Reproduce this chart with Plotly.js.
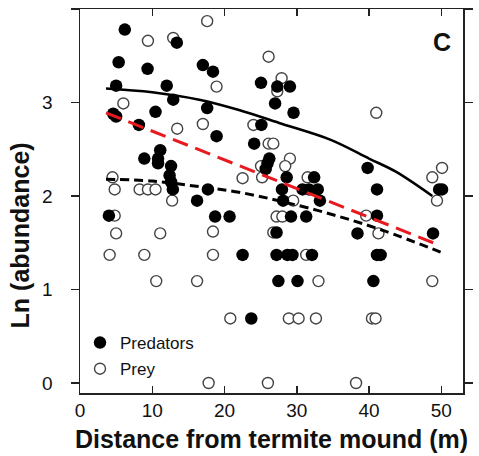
<!DOCTYPE html>
<html>
<head>
<meta charset="utf-8">
<script src="https://cdn.plot.ly/plotly-3.0.1.min.js"></script>
<style>html,body{margin:0;padding:0;background:#fff;}#chart{width:479px;height:456px;}</style>
</head>
<body>
<div id="chart"></div>
<script>
// Predators (filled circles)
var predX = [6.2,13.4,5.35,9.35,17.0,18.4,5.0,12.0,12.9,4.6,5.0,10.45,8.15,17.6,25.05,27.3,29.05,27.0,29.55,25.1,18.9,11.1,8.9,10.8,10.8,12.6,12.4,12.6,12.85,16.2,17.7,4.0,24.1,26.2,25.95,25.7,28.6,27.95,32.4,30.8,31.7,32.9,33.2,28.1,18.7,20.7,29.2,31.3,27.2,22.5,27.2,28.7,29.4,32.1,39.8,41.1,41.1,38.4,41.1,41.6,49.7,50.1,48.85,40.6,27.45,30.1,23.7];
var predY = [3.78,3.64,3.43,3.36,3.40,3.33,3.18,3.18,3.03,2.88,2.85,2.90,2.76,2.94,3.21,3.17,3.17,2.99,2.89,2.76,2.64,2.49,2.40,2.40,2.35,2.32,2.22,2.15,2.07,1.95,2.07,1.79,2.56,2.40,2.35,2.29,2.20,2.07,2.20,2.07,2.07,2.07,1.95,1.95,1.78,1.78,1.78,1.78,1.61,1.37,1.37,1.37,1.37,1.37,2.30,2.07,1.79,1.60,1.37,1.37,2.07,2.07,1.60,1.09,1.09,1.09,0.69];
// Prey (open circles)
var preyX = [9.4,12.9,17.6,26.1,18.9,27.9,27.3,6.0,13.45,17.0,24.0,41.0,4.5,4.8,8.25,9.4,10.45,12.75,4.8,5.0,11.1,4.1,8.9,18.4,26.1,26.75,25.05,29.05,28.4,22.5,25.2,31.5,29.5,27.2,28.0,18.4,26.75,31.3,39.6,41.3,48.75,50.1,49.4,10.55,16.2,33.0,20.8,28.9,30.25,32.65,40.4,40.9,48.75,17.8,26.0,38.2];
var preyY = [3.66,3.69,3.87,3.49,3.17,3.26,3.12,2.99,2.72,2.77,2.76,2.89,2.20,2.07,2.07,2.07,2.07,1.95,1.79,1.60,1.60,1.37,1.37,1.37,2.56,2.56,2.32,2.40,2.32,2.19,2.20,2.20,1.95,1.78,1.78,1.62,1.61,1.37,1.79,1.60,2.20,2.30,1.95,1.09,1.09,1.09,0.69,0.69,0.69,0.69,0.69,0.69,1.09,0.0,0.0,0.0];
// Fitted curves
var predFitX = [3.6,10,16.5,22,28,34.7,40,43.7,48.75];
var predFitY = [3.15,3.11,3.03,2.92,2.77,2.60,2.40,2.26,2.00];
var redFitX = [3.6,49.2];
var redFitY = [2.89,1.49];
var preyFitX = [3.6,10,16.5,22,28,35,42,49.9];
var preyFitY = [2.18,2.16,2.10,2.04,1.94,1.80,1.63,1.40];

var xTicks = [0,10,20,30,40,50];
var yTicks = [0,1,2,3,4];

var F = 'Liberation Sans, Arial, Helvetica, sans-serif';

var traces = [
  {x: preyX, y: preyY, type:'scatter', mode:'markers', name:'Prey', legendrank:2, legendgroup:'b',
   marker:{symbol:'circle', size:11, color:'#ffffff', line:{color:'#444444', width:1.4}}},
  {x: predX, y: predY, type:'scatter', mode:'markers', name:'Predators', legendrank:1, legendgroup:'a',
   marker:{symbol:'circle', size:12.5, color:'#000000', line:{width:0}}},
  {x: predFitX, y: predFitY, type:'scatter', mode:'lines', line:{shape:'spline', color:'#000', width:2.6}, showlegend:false, hoverinfo:'skip'},
  {x: redFitX, y: redFitY, type:'scatter', mode:'lines', line:{color:'#e8191f', width:3, dash:'16px,8px'}, showlegend:false, hoverinfo:'skip'},
  {x: preyFitX, y: preyFitY, type:'scatter', mode:'lines', line:{shape:'spline', color:'#000', width:3, dash:'9px,5px'}, showlegend:false, hoverinfo:'skip'}
];

var layout = {
  width:479, height:456,
  margin:{l:80, r:16, t:9, b:63, pad:0},
  paper_bgcolor:'#fff', plot_bgcolor:'#fff',
  font:{family:F, size:19, color:'#111'},
  showlegend:true,
  legend:{x:0.0, y:0.177, xanchor:'left', yanchor:'top', bgcolor:'rgba(0,0,0,0)', font:{family:F, size:17, color:'#111'}, tracegroupgap:1, itemwidth:30},
  xaxis:{range:[0,53], tickvals:xTicks, ticktext:xTicks.map(String), ticks:'inside', ticklen:7, tickwidth:1.5, tickcolor:'#222',
    showline:true, linecolor:'#222', linewidth:1.5, mirror:'ticks', showgrid:false, zeroline:false,
    tickfont:{family:F, size:19, color:'#111'},
    title:{text:'<b>Distance from termite mound (m)</b>', font:{family:F, size:25, color:'#111'}, standoff:10}},
  yaxis:{range:[-0.107,4], tickvals:yTicks, ticktext:yTicks.map(String), ticks:'outside', ticklen:8, tickwidth:1.5, tickcolor:'#222',
    showline:true, linecolor:'#222', linewidth:1.5, mirror:'ticks', showgrid:false, zeroline:false,
    tickfont:{family:F, size:19, color:'#111'}, ticklabelstandoff:14},
  annotations:[
    {text:'<b>Ln (abundance)</b>', textangle:-90, xref:'paper', yref:'paper', x:-0.157, y:0.41, xanchor:'center', yanchor:'middle', showarrow:false, font:{family:F, size:25, color:'#111'}},
    {text:'<b>C</b>', xref:'paper', yref:'paper', x:0.945, y:0.915, xanchor:'center', yanchor:'middle', showarrow:false, font:{family:F, size:25, color:'#111'}}
  ]
};

Plotly.newPlot('chart', traces, layout, {displayModeBar:false, staticPlot:true});
</script>
</body>
</html>
